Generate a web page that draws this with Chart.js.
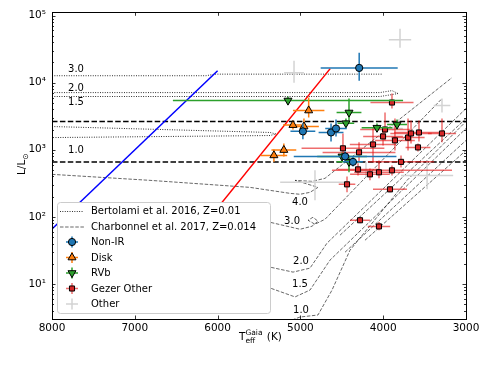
<!DOCTYPE html>
<html><head><meta charset="utf-8">
<script src="https://cdn.jsdelivr.net/npm/chart.js@4/dist/chart.umd.min.js"></script>
<style>html,body{margin:0;padding:0;background:#fff}canvas{display:block}</style>
</head><body>
<canvas id="c" width="491" height="367"></canvas>
<script>
// ---------------- data ----------------
const seriesLabels = ['Bertolami et al. 2016, Z=0.01','Charbonnel et al. 2017, Z=0.014','Non-IR','Disk','RVb','Gezer Other','Other'];
const tempTicks = [8000,7000,6000,5000,4000,3000];
const lumTicks = [10,100,1000,10000,100000];

// Non-IR
const nonIR_T    = [4290, 4970, 4630, 4570, 4460, 4365];
const nonIR_L    = [16600, 1880, 1810, 2075, 796, 660];
const nonIR_Terr = [465, 150, 150, 130, 620, 120];
const nonIR_Llo  = [10700, 1430, 1330, 1580, 660, 565];
const nonIR_Lhi  = [28000, 2460, 2460, 2830, 944, 796];
// Disk
const disk_T    = [4900, 5090, 4957, 5200, 5320];
const disk_L    = [3850, 2330, 2220, 990, 824];
const disk_Terr = [190, 120, 180, 150, 160];
const disk_Llo  = [3030, 2000, 1630, 796, 660];
const disk_Lhi  = [6000, 2730, 2920, 1240, 1010];
// RVb
const rvb_T    = [5150, 4413, 4450, 4075, 3833, 4497, 4413];
const rvb_L    = [5420, 3590, 2490, 2130, 2380, 796, 660];
const rvb_Terr = [1390, 150, 100, 185, 120, 300, 150];
const rvb_Llo  = [4720, 2730, 2150, 1870, 2000, 694, 461];
const rvb_Lhi  = [6220, 5790, 2920, 2460, 2830, 913, 824];
// Gezer Other
const gez_T    = [3894,3978,4002,4123,3858,3700,3664,3568,3290,3580,3785,3894,4051,4160,4486,4292,4304,4437,3918,4280,4051];
const gez_L    = [5060,2005,1580,1200,1380,1520,1750,1810,1750,1084,660,493,461,430,1050,913,510,305,257,89,72];
const gez_Terr = [260,300,240,280,240,200,250,300,170,150,400,725,300,240,500,440,250,100,205,120,135];
const gez_Llo  = [4110,1380,1160,649,977,977,1240,1330,1290,944,546,415,375,350,743,649,415,232,232,80,63];
const gez_Lhi  = [6890,3590,2075,2150,2920,2920,2730,2730,2920,1240,824,585,694,527,1750,1290,627,401,285,98,84];
// Other
const oth_T    = [3797,5077,3290,3470,4208,4824,3882];
const oth_L    = [43800,14100,4560,415,493,327,2075];
const oth_Terr = [135,120,100,315,60,420,120];
const oth_Llo  = [33300,10000,3590,257,387,176,1940];
const oth_Lhi  = [63700,21300,5790,694,649,493,2220];

// straight lines
const blueLine_T = [8000, 6000];
const blueLine_L = [65.8, 15100];
const redLine_T  = [6800, 4640];
const redLine_L  = [8.2, 16200];
const dashLevels = [2640, 659];

// Bertolami 2016 post-AGB tracks
const bert30_T = [8000, 6140, 6031, 4003];
const bert30_L = [12700, 12700, 13400, 13400];
const bert20_T = [8000, 4039, 3894, 3821];
const bert20_L = [7120, 7120, 7620, 6890];
const bert15_T = [8000, 4039, 3894, 3821];
const bert15_L = [6220, 6220, 6650, 6890];
const bert10_T = [8000, 5367, 5295, 5367, 8000];
const bert10_L = [2220, 1810, 1720, 1630, 1520];
// Charbonnel 2017 tracks
const char40_T = [8000, 6816, 5609, 5126, 5005, 4884, 4788, 4944, 5065, 4860, 4703, 3169];
const char40_L = [430, 350, 275, 224, 217, 232, 275, 316, 350, 338, 375, 11900];
const char30_T = [6213, 5367, 5005, 4860, 4788, 4848, 4908, 4824, 4703, 3290];
const char30_L = [109, 83, 65.3, 72.4, 86, 98.6, 89, 77.6, 92, 5790];
const char20_T = [6213, 5367, 5089, 4884, 4679, 3000];
const char20_L = [21.1, 17.8, 15.0, 17.2, 40.5, 4120];
const char20b_T = [4522, 3000];
const char20b_L = [53.2, 2920];
const char15_T = [6213, 5367, 5065, 4884, 4643, 3000];
const char15_L = [9.6, 8.7, 6.4, 8.1, 22.6, 2075];
const char15b_T = [4461, 3000];
const char15b_L = [29.7, 1380];
const char10_T = [5100, 5005, 4788, 4618, 4401, 3712, 3000];
const char10_L = [2.9, 3.21, 3.44, 8.1, 31.8, 350, 2640];
const char10b_T = [4220, 3000];
const char10b_L = [44.8, 977];

const bertLabels  = ['3.0','2.0','1.5','1.0'];
const bertLabel_T = [7710, 7710, 7710, 7710];
const bertLabel_L = [15600, 8300, 5140, 962];
const charLabels  = ['4.0','3.0','2.0','1.5','1.0'];
const charLabel_T = [5005, 5101, 4993, 5005, 4993];
const charLabel_L = [165, 85.9, 21.8, 9.93, 4.08];

// ---------------- helpers ----------------
const FONT = "'DejaVu Sans', sans-serif";
Chart.defaults.font.family = FONT;
const pts = (T, L) => T.map((t, i) => ({x: t, y: L[i]}));
const supMap = {'0':'⁰','1':'¹','2':'²','3':'³','4':'⁴','5':'⁵'};

const BERT_STYLE = {color:'#000', width:0.9, dash:[0.9,1.5]};
const CHAR_STYLE = {color:'#000', width:0.6, dash:[3.5,1.6]};
function track(T, L, st) {
  return {type:'scatter', showLine:true, data:pts(T, L), borderColor:st.color, borderWidth:st.width,
          borderDash:st.dash, pointRadius:0, tension:0, fill:false, order:20};
}
function lineDs(T, L, color, width, dash, order) {
  return {type:'scatter', showLine:true, data:pts(T, L), borderColor:color, borderWidth:width,
          borderDash:dash || [], pointRadius:0, tension:0, fill:false, order:order};
}
function pointDs(label, T, L, Terr, Llo, Lhi, face, errColor, style, r, rot, order) {
  return {type:'scatter', label, data:pts(T, L), backgroundColor:face, borderColor:'#000', borderWidth:1,
          pointStyle:style, pointRadius:r, pointRotation:rot || 0, order,
          eb:{T, L, Terr, Llo, Lhi, color:errColor}};
}

const COL = {blue:'#1f77b4', orange:'#ff7f0e', green:'#2ca02c', red:'#d62728'};
const datasets = [
  pointDs(seriesLabels[2], nonIR_T, nonIR_L, nonIR_Terr, nonIR_Llo, nonIR_Lhi, COL.blue, COL.blue, 'circle', 3.6, 0, 1),
  pointDs(seriesLabels[3], disk_T, disk_L, disk_Terr, disk_Llo, disk_Lhi, COL.orange, COL.orange, 'triangle', 4.6, 0, 2),
  pointDs(seriesLabels[4], rvb_T, rvb_L, rvb_Terr, rvb_Llo, rvb_Lhi, COL.green, COL.green, 'triangle', 4.6, 180, 3),
  pointDs(seriesLabels[5], gez_T, gez_L, gez_Terr, gez_Llo, gez_Lhi, COL.red, 'rgba(228,20,20,0.62)', 'rect', 3.6, 0, 4),
  pointDs(seriesLabels[6], oth_T, oth_L, oth_Terr, oth_Llo, oth_Lhi, 'rgba(0,0,0,0)', '#d3d3d3', false, 0, 0, 5),
  lineDs(blueLine_T, blueLine_L, '#0000ff', 1.5, null, 6),
  lineDs(redLine_T, redLine_L, '#ff0000', 1.5, null, 7),
  lineDs([8000, 3000], [dashLevels[0], dashLevels[0]], '#000', 1.5, [5.5, 2.4], 8),
  lineDs([8000, 3000], [dashLevels[1], dashLevels[1]], '#000', 1.5, [5.5, 2.4], 9),
  track(bert30_T, bert30_L, BERT_STYLE), track(bert20_T, bert20_L, BERT_STYLE),
  track(bert15_T, bert15_L, BERT_STYLE), track(bert10_T, bert10_L, BERT_STYLE),
  track(char40_T, char40_L, CHAR_STYLE), track(char30_T, char30_L, CHAR_STYLE),
  track(char20_T, char20_L, CHAR_STYLE), track(char20b_T, char20b_L, CHAR_STYLE),
  track(char15_T, char15_L, CHAR_STYLE), track(char15b_T, char15b_L, CHAR_STYLE),
  track(char10_T, char10_L, CHAR_STYLE), track(char10b_T, char10b_L, CHAR_STYLE)
];

// ---------------- plugins ----------------
function clipArea(ctx, a) { ctx.beginPath(); ctx.rect(a.left, a.top, a.right - a.left, a.bottom - a.top); ctx.clip(); }

const errorBars = {
  id:'errorBars',
  beforeDatasetDraw(chart, args) {
    const ds = chart.data.datasets[args.index];
    if (!ds.eb) return;
    const {ctx, chartArea:a, scales:{x, y}} = chart;
    const e = ds.eb;
    ctx.save(); clipArea(ctx, a);
    ctx.strokeStyle = e.color; ctx.lineWidth = 1.5; ctx.lineCap = 'butt';
    for (let i = 0; i < e.T.length; i++) {
      const px = x.getPixelForValue(e.T[i]), py = y.getPixelForValue(e.L[i]);
      ctx.beginPath();
      ctx.moveTo(x.getPixelForValue(e.T[i] + e.Terr[i]), py);
      ctx.lineTo(x.getPixelForValue(e.T[i] - e.Terr[i]), py);
      ctx.stroke();
      ctx.beginPath();
      ctx.moveTo(px, y.getPixelForValue(e.Llo[i]));
      ctx.lineTo(px, y.getPixelForValue(e.Lhi[i]));
      ctx.stroke();
    }
    ctx.restore();
  }
};

const frame = {
  id:'frame',
  afterDatasetsDraw(chart) {
    const {ctx, chartArea:a, scales:{x, y}} = chart;
    ctx.save();
    // track labels
    ctx.fillStyle = '#000'; ctx.font = '10px ' + FONT; ctx.textAlign = 'center'; ctx.textBaseline = 'middle';
    bertLabels.forEach((t, i) => ctx.fillText(t, x.getPixelForValue(bertLabel_T[i]), y.getPixelForValue(bertLabel_L[i])));
    charLabels.forEach((t, i) => ctx.fillText(t, x.getPixelForValue(charLabel_T[i]), y.getPixelForValue(charLabel_L[i])));
    // ticks (inward)
    ctx.strokeStyle = '#000'; ctx.lineWidth = 0.8;
    ctx.beginPath();
    tempTicks.forEach(v => {
      const px = Math.round(x.getPixelForValue(v)) + 0.5;
      ctx.moveTo(px, a.bottom); ctx.lineTo(px, a.bottom - 3.5);
      ctx.moveTo(px, a.top); ctx.lineTo(px, a.top + 3.5);
    });
    for (let e = 0; e <= 5; e++) {
      for (let m = 1; m <= 9; m++) {
        const v = m * Math.pow(10, e);
        if (v < y.min || v > y.max) continue;
        const py = Math.round(y.getPixelForValue(v)) + 0.5;
        const len = m === 1 ? 3.5 : 2;
        ctx.moveTo(a.left, py); ctx.lineTo(a.left + len, py);
        ctx.moveTo(a.right, py); ctx.lineTo(a.right - len, py);
      }
    }
    ctx.stroke();
    ctx.lineWidth = 1;
    ctx.strokeRect(Math.round(a.left) + 0.5, Math.round(a.top) + 0.5, Math.round(a.right - a.left), Math.round(a.bottom - a.top));
    ctx.restore();
  },
  afterDraw(chart) {
    const {ctx} = chart;
    ctx.save();
    // axis titles
    ctx.fillStyle = '#000'; ctx.textBaseline = 'alphabetic'; ctx.textAlign = 'left';
    ctx.font = '10.5px ' + FONT;
    let xx = 239;
    ctx.fillText('T', xx, 339.5); xx += ctx.measureText('T').width;
    ctx.font = '7.5px ' + FONT;
    ctx.fillText('Gaia', xx, 335); const wG = ctx.measureText('Gaia').width;
    ctx.fillText('eff', xx, 342.5);
    xx += wG;
    ctx.font = '10.5px ' + FONT;
    ctx.fillText(' (K)', xx + 1, 339.5);
    // y title rotated
    ctx.translate(25, 175); ctx.rotate(-Math.PI / 2);
    ctx.font = '10.5px ' + FONT;
    ctx.fillText('L/L', 0, 0);
    const wl = ctx.measureText('L/L').width;
    ctx.font = '7.5px ' + FONT;
    ctx.fillText('⊙', wl, 2.5);
    ctx.restore();
    // legend
    drawLegend(chart);
  }
};

function drawLegend(chart) {
  const {ctx} = chart;
  const bx = 57.5, by = 202.5, bw = 213, bh = 111, r = 3;
  ctx.save();
  ctx.beginPath();
  ctx.moveTo(bx + r, by); ctx.lineTo(bx + bw - r, by); ctx.arcTo(bx + bw, by, bx + bw, by + r, r);
  ctx.lineTo(bx + bw, by + bh - r); ctx.arcTo(bx + bw, by + bh, bx + bw - r, by + bh, r);
  ctx.lineTo(bx + r, by + bh); ctx.arcTo(bx, by + bh, bx, by + bh - r, r);
  ctx.lineTo(bx, by + r); ctx.arcTo(bx, by, bx + r, by, r); ctx.closePath();
  ctx.fillStyle = '#ffffff'; ctx.fill();
  ctx.strokeStyle = '#cccccc'; ctx.lineWidth = 1; ctx.stroke();
  const rowY = i => 211 + i * 15.5;
  const hx0 = 60, hx1 = 84, mx = 72;
  ctx.font = '10px ' + FONT; ctx.fillStyle = '#000'; ctx.textBaseline = 'middle'; ctx.textAlign = 'left';
  seriesLabels.forEach((lab, i) => ctx.fillText(lab, 91, rowY(i) + 0.5));
  // line handles
  [[BERT_STYLE, 0], [CHAR_STYLE, 1]].forEach(([st, i]) => {
    ctx.beginPath(); ctx.setLineDash(st.dash); ctx.strokeStyle = st.color; ctx.lineWidth = st.width;
    ctx.moveTo(hx0, rowY(i) + 0.5); ctx.lineTo(hx1, rowY(i) + 0.5); ctx.stroke();
  });
  ctx.setLineDash([]);
  // marker handles
  const ds = chart.data.datasets;
  for (let k = 0; k < 5; k++) {
    const d = ds[k], yy = rowY(k + 2);
    ctx.strokeStyle = d.eb.color; ctx.lineWidth = 1.5;
    ctx.beginPath(); ctx.moveTo(mx - 6, yy); ctx.lineTo(mx + 6, yy); ctx.moveTo(mx, yy - 5.5); ctx.lineTo(mx, yy + 5.5); ctx.stroke();
    if (d.pointStyle) {
      ctx.fillStyle = d.backgroundColor; ctx.strokeStyle = '#000'; ctx.lineWidth = 1;
      Chart.helpers.drawPoint(ctx, {pointStyle:d.pointStyle, radius:d.pointRadius, rotation:d.pointRotation, borderWidth:1}, mx, yy);
    }
  }
  ctx.restore();
}

// ---------------- chart ----------------
new Chart(document.getElementById('c'), {
  type:'scatter',
  data:{datasets},
  options:{
    responsive:false, animation:false, devicePixelRatio:1,
    layout:{padding:{left:0, right:25, top:12, bottom:0}},
    plugins:{legend:{display:false}, tooltip:{enabled:false}},
    scales:{
      x:{type:'linear', min:3000, max:8000, reverse:true,
         afterBuildTicks: s => { s.ticks = tempTicks.map(v => ({value:v})); },
         afterFit: s => { s.height = 48; },
         ticks:{callback: v => String(v), color:'#000', font:{size:10.5, family:FONT}, padding:3, maxRotation:0, autoSkip:false},
         grid:{display:false, drawTicks:false}, border:{display:false}},
      y:{type:'logarithmic', min:3, max:1.12e5,
         afterBuildTicks: s => { s.ticks = lumTicks.map(v => ({value:v})); },
         afterFit: s => { s.width = 52; },
         ticks:{callback: v => '10' + supMap[String(Math.round(Math.log10(v)))], color:'#000', font:{size:10.5, family:FONT}, padding:6, autoSkip:false},
         grid:{display:false, drawTicks:false}, border:{display:false}}
    }
  },
  plugins:[errorBars, frame]
});
</script>
</body></html>
